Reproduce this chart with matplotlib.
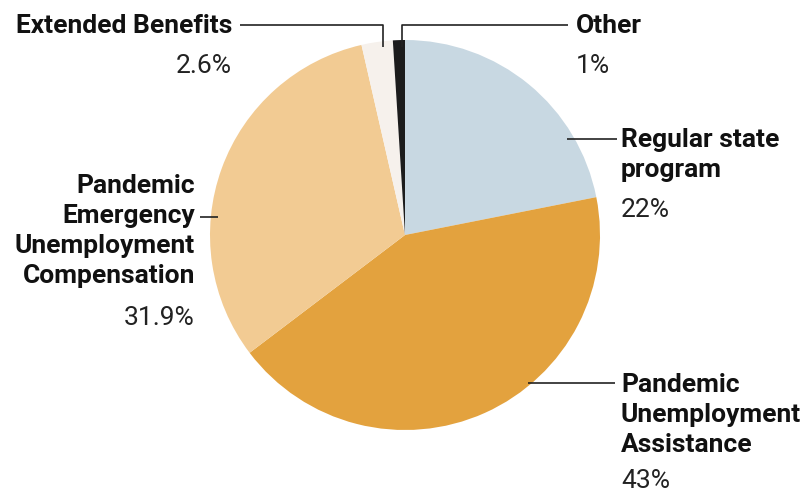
import matplotlib.pyplot as plt

# slice data, clockwise from 12 o'clock
programs = ['Regular state\nprogram', 'Pandemic\nUnemployment\nAssistance',
            'Pandemic\nEmergency\nUnemployment\nCompensation',
            'Extended Benefits', 'Other']
shares = [22, 43, 31.9, 2.6, 1]

slice_colors = ['#c8d8e2', '#e3a23e', '#f2cb93', '#f6f1ec', '#1c1c1c']

plt.rcParams['font.family'] = ['Roboto', 'DejaVu Sans']

W, H = 804, 494
fig = plt.figure(figsize=(W / 100, H / 100), dpi=100, facecolor='white')
ax = fig.add_axes([0, 0, 1, 1])

cx, cy, r = 405, H - 235, 195
ax.pie(shares, colors=slice_colors, startangle=90, counterclock=False,
       center=(cx, cy), radius=r, wedgeprops=dict(linewidth=0), frame=True)
ax.set_xlim(0, W)
ax.set_ylim(0, H)
ax.set_aspect('equal')
ax.axis('off')


def y(py):
    return H - py


def leader(xs, ys):
    ax.plot(xs, [y(v) for v in ys], color='#222222', lw=1.2, solid_capstyle='butt')


def label(x, first_baseline, text, pct, ha, pct_gap=40):
    lines = text.split('\n')
    for i, line in enumerate(lines):
        ax.text(x, y(first_baseline + 30 * i), line, ha=ha, va='baseline',
                fontsize=19, fontweight='bold', color='#111111')
    ax.text(x, y(first_baseline + 30 * (len(lines) - 1) + pct_gap), f'{pct:g}%',
            ha=ha, va='baseline', fontsize=19, fontweight='normal', color='#222222')


# leader lines
leader([240, 383, 383], [25, 25, 47])
leader([402, 402, 568], [47, 25, 25])
leader([567, 617], [139, 139])
leader([200, 218], [217, 217])
leader([528, 615], [383, 383])

label(232, 33, programs[3], shares[3], 'right')
label(576, 33, programs[4], shares[4], 'left')
label(621, 147, programs[0], shares[0], 'left')
label(195, 193, programs[2], shares[2], 'right', pct_gap=42)
label(621, 392, programs[1], shares[1], 'left', pct_gap=36)

fig.savefig('out.png', dpi=100, facecolor='white')
